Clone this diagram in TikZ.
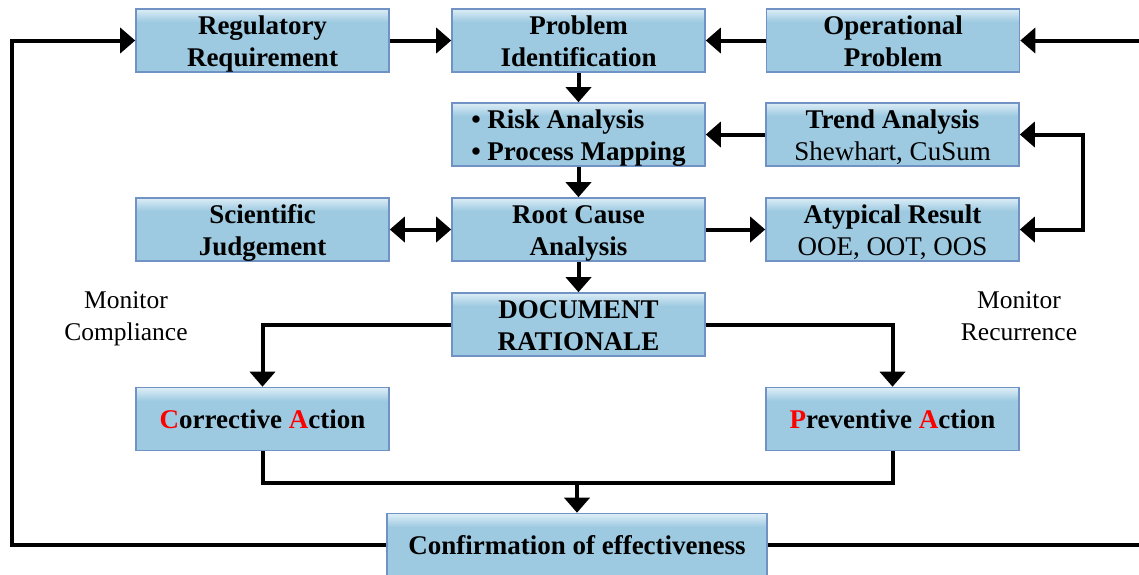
\documentclass[tikz,border=0pt]{standalone}
\usepackage{fontspec}
\setmainfont{Liberation Serif}
\usetikzlibrary{arrows.meta}
\definecolor{boxfill}{HTML}{9DCAE1}
\definecolor{boxtop}{HTML}{DCEDF6}
\definecolor{boxborder}{HTML}{7092C4}
\newcommand\tstr{\rule{0pt}{25pt}}
\newcommand\bstr{\rule[-6pt]{0pt}{6pt}}
\tikzset{
  box/.style={draw=boxborder, line width=1.6pt, fill=boxfill,
    minimum width=253pt, minimum height=63pt, inner sep=0pt, align=center,
    font=\fontsize{27}{32}\selectfont\bfseries,
    path picture={\foreach \i in {0,...,13}{
        \pgfmathsetmacro\mix{100-\i*100/13}
        \fill[boxtop!\mix!boxfill]
          ([yshift=-\i pt]path picture bounding box.north west) rectangle
          ([yshift=-\i pt-1.1pt]path picture bounding box.north east);}}},
  conn/.style={line width=4pt, draw=black},
  arr/.style={conn, -{Triangle[length=15pt,width=25pt]}},
  darr/.style={conn, {Triangle[length=15pt,width=25pt]}-{Triangle[length=15pt,width=25pt]}},
  lbl/.style={align=center, font=\fontsize{25.5}{32}\selectfont, inner sep=0pt}
}
\begin{document}
\begin{tikzpicture}[x=1pt,y=-1pt]
\useasboundingbox (0,0) rectangle (1139,574);
\node[box] (reg) at (262.5,40.5) {\tstr Regulatory\\Requirement\bstr};
\node[box] (pid) at (578.5,40.5) {\tstr Problem\\Identification\bstr};
\node[box] (op) at (893,40.5) {\tstr Operational\\Problem\bstr};
\node[box, align=left] (risk) at (578.5,134.5) {\tstr\textbullet\ Risk Analysis\\\textbullet\ Process Mapping\bstr};
\node[box] (trend) at (892.5,134.5) {\tstr Trend Analysis\\\mdseries Shewhart, CuSum\bstr};
\node[box] (sci) at (262.5,229.5) {\tstr Scientific\\Judgement\bstr};
\node[box] (rca) at (578.5,229.5) {\tstr Root Cause\\Analysis\bstr};
\node[box] (atyp) at (892.5,229.5) {\tstr Atypical Result\\\mdseries OOE, OOT, OOS\bstr};
\node[box] (doc) at (578.5,324.5) {\tstr DOCUMENT\\RATIONALE\bstr};
\node[box] (corr) at (262.5,419) {\textcolor{red}{C}orrective \textcolor{red}{A}ction};
\node[box] (prev) at (892.5,419) {\textcolor{red}{P}reventive \textcolor{red}{A}ction};
\node[box, minimum width=380pt] (conf) at (577,545) {Confirmation of effectiveness};
\node[lbl] (monc) at (126,319) {Monitor\\Compliance};
\node[lbl] (monr) at (1019,316.5) {Monitor\\Recurrence};
\coordinate (lft) at (12,545);
\coordinate (rgt) at (1160,545);
\coordinate (mid) at (577,483);
\draw[arr] (reg) -- (pid);
\draw[arr] (op) -- (pid);
\draw[arr] (pid) -- (risk);
\draw[arr] (trend) -- (risk);
\draw[arr] (risk) -- (rca);
\draw[darr] (sci) -- (rca);
\draw[arr] (rca) -- (atyp);
\draw[arr] (rca) -- (doc);
\draw[darr] (trend.east) -- ++(63,0) |- (atyp.east);
\draw[arr] (doc.west) -| (corr.north);
\draw[arr] (doc.east) -| (prev.north);
\draw[conn] (corr.south) |- (mid) -| (prev.south);
\draw[arr] (mid) -- (conf.north);
\draw[arr] (conf.west) -- (lft) |- (reg.west);
\draw[arr] (conf.east) -- (rgt) |- (op.east);
\end{tikzpicture}
\end{document}
